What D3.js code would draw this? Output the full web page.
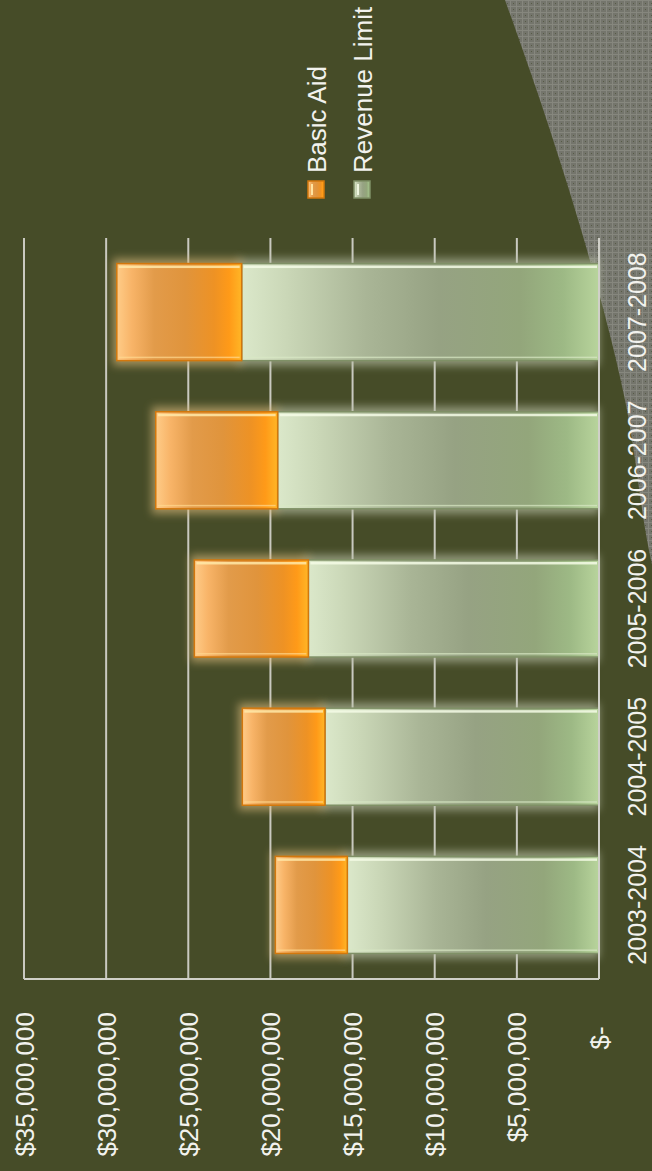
<!DOCTYPE html>
<html>
<head>
<meta charset="utf-8">
<script src="https://cdn.jsdelivr.net/npm/d3@7"></script>
<style>
  html, body { margin: 0; padding: 0; background: #464c28; }
  svg { display: block; }
  text { font-family: "Liberation Sans", Arial, sans-serif; fill: #f2f2ee; }
</style>
</head>
<body>
<div id="chart"></div>
<script>
// data (dollars)
var categories = ["2003-2004", "2004-2005", "2005-2006", "2006-2007", "2007-2008"];
var revenueLimit = [15320000, 16680000, 17690000, 19560000, 21750000];
var basicAid = [4380000, 5030000, 6940000, 7420000, 7600000];
var seriesNames = ["Basic Aid", "Revenue Limit"];
var valueTicks = [0, 5000000, 10000000, 15000000, 20000000, 25000000, 30000000, 35000000];

var W = 652, H = 1171;
var svg = d3.select("#chart").append("svg")
    .attr("width", W)
    .attr("height", H);

var defs = svg.append("defs");

// grey dotted pattern for the corner shape
var pat = defs.append("pattern")
    .attr("id", "dots")
    .attr("width", 6).attr("height", 6)
    .attr("patternUnits", "userSpaceOnUse");
pat.append("rect").attr("width", 6).attr("height", 6).attr("fill", "#74756c");
pat.append("rect").attr("width", 6).attr("height", 1).attr("fill", "#86877e");
pat.append("rect").attr("width", 1).attr("height", 6).attr("fill", "#86877e");
pat.append("rect").attr("x", 3).attr("y", 3).attr("width", 1).attr("height", 1).attr("fill", "#575b46");

function grad(id, stops) {
    var g = defs.append("linearGradient").attr("id", id)
        .attr("x1", "0").attr("y1", "0").attr("x2", "1").attr("y2", "0");
    stops.forEach(function (s) {
        g.append("stop").attr("offset", s[0]).attr("stop-color", s[1]);
    });
}
grad("gOrange", [[0, "#ffcc88"], [0.12, "#f8b468"], [0.3, "#e29b4a"], [0.55, "#e0943c"], [0.78, "#ee9224"], [0.9, "#ff9a18"], [1, "#ffb626"]]);
grad("gGreen", [[0, "#dbe8ca"], [0.12, "#cbd8b8"], [0.35, "#a9b596"], [0.55, "#96a283"], [0.78, "#93a67b"], [0.9, "#9db985"], [1, "#b8d49c"]]);

var blur = defs.append("filter").attr("id", "glow")
    .attr("x", "-20%").attr("y", "-30%").attr("width", "140%").attr("height", "160%");
blur.append("feGaussianBlur").attr("stdDeviation", 4);

// background corner shape
var cornerPts = [[505, 0], [540, 100], [587, 250], [625, 400], [647, 540], [660, 600]];
var cornerPath = d3.line().curve(d3.curveCatmullRom)(cornerPts) + "L660,0Z";
svg.append("path").attr("d", cornerPath).attr("fill", "url(#dots)");

// scales
var x = d3.scaleLinear().domain([0, 35000000]).range([599, 24]);
var y = d3.scaleBand().domain(categories).range([979, 238])
    .paddingInner(0.345).paddingOuter(0.1725);

// gridlines
var grid = svg.append("g");
grid.selectAll("line").data(valueTicks.slice(1)).enter().append("line")
    .attr("x1", function (d) { return x(d); })
    .attr("x2", function (d) { return x(d); })
    .attr("y1", 238).attr("y2", 979)
    .attr("stroke", "#c9c9c0").attr("stroke-width", 2);

// stacked data
var rows = categories.map(function (c, i) {
    return { cat: c, rl: revenueLimit[i], ba: basicAid[i] };
});
var segs = [];
rows.forEach(function (r) {
    segs.push({ cat: r.cat, v0: 0, v1: r.rl, s: "rl" });
    segs.push({ cat: r.cat, v0: r.rl, v1: r.rl + r.ba, s: "ba" });
});

// glow behind bars
svg.append("g").selectAll("rect").data(segs).enter().append("rect")
    .attr("x", function (d) { return x(d.v1) - 4; })
    .attr("y", function (d) { return y(d.cat) - 5; })
    .attr("width", function (d) { return x(d.v0) - x(d.v1) + 4; })
    .attr("height", y.bandwidth() + 10)
    .attr("fill", function (d) { return d.s == "ba" ? "#d8b87a" : "#b9c0a6"; })
    .attr("opacity", 0.65)
    .attr("filter", "url(#glow)");

// bars
var bars = svg.append("g").selectAll("g").data(segs).enter().append("g");
bars.append("rect")
    .attr("x", function (d) { return x(d.v1); })
    .attr("y", function (d) { return y(d.cat); })
    .attr("width", function (d) { return x(d.v0) - x(d.v1); })
    .attr("height", y.bandwidth())
    .attr("fill", function (d) { return d.s == "ba" ? "url(#gOrange)" : "url(#gGreen)"; })
    .attr("stroke", function (d) { return d.s == "ba" ? "#d2770c" : "#7f9066"; })
    .attr("stroke-width", 1.5);
// top highlight
bars.append("rect")
    .attr("x", function (d) { return x(d.v1) + 2; })
    .attr("y", function (d) { return y(d.cat) + 2; })
    .attr("width", function (d) { return x(d.v0) - x(d.v1) - 4; })
    .attr("height", 2.5)
    .attr("fill", function (d) { return d.s == "ba" ? "#ffe9a8" : "#f4fbe6"; })
    .attr("opacity", 0.85);
// bottom highlight
bars.append("rect")
    .attr("x", function (d) { return x(d.v1) + 2; })
    .attr("y", function (d) { return y(d.cat) + y.bandwidth() - 4; })
    .attr("width", function (d) { return x(d.v0) - x(d.v1) - 4; })
    .attr("height", 1.5)
    .attr("fill", function (d) { return d.s == "ba" ? "#ffd890" : "#d8e8c4"; })
    .attr("opacity", 0.7);

// axis lines
svg.append("line").attr("x1", x(0)).attr("x2", x(0)).attr("y1", 238).attr("y2", 979)
    .attr("stroke", "#d0d0c8").attr("stroke-width", 2);
svg.append("line").attr("x1", x(35000000)).attr("x2", x(0)).attr("y1", 979).attr("y2", 979)
    .attr("stroke", "#d0d0c8").attr("stroke-width", 2);

// value axis labels
var money = d3.format(",");
var xAxis = d3.axisBottom(x).tickValues(valueTicks).tickSize(0)
    .tickFormat(function (d) { return d == 0 ? "$-\u00a0\u00a0" : "$" + money(d); });
var xg = svg.append("g").attr("transform", "translate(0,1012)").call(xAxis);
xg.select(".domain").remove();
xg.selectAll("text")
    .attr("x", null).attr("y", null).attr("dy", null)
    .attr("transform", "translate(9,0) rotate(-90)")
    .attr("text-anchor", "end")
    .attr("fill", "#f2f2ee")
    .style("font-size", "26px")
    .style("font-family", "'Liberation Sans', Arial, sans-serif");

// category labels
var yAxis = d3.axisRight(y).tickSize(0);
var yg = svg.append("g").attr("transform", "translate(646,0)").call(yAxis);
yg.select(".domain").remove();
yg.selectAll("text")
    .attr("x", null).attr("dy", null)
    .attr("transform", "rotate(-90)")
    .attr("text-anchor", "middle")
    .attr("fill", "#f2f2ee")
    .style("font-size", "25px")
    .style("font-family", "'Liberation Sans', Arial, sans-serif");

// legend
var legend = svg.append("g").selectAll("g").data(seriesNames).enter().append("g")
    .attr("transform", function (d, i) { return "translate(" + (326 + i * 46) + ",0)"; });
legend.append("rect")
    .attr("x", -18).attr("y", 181).attr("width", 16).attr("height", 17)
    .attr("fill", function (d, i) { return i == 0 ? "url(#gOrange)" : "url(#gGreen)"; })
    .attr("stroke", function (d, i) { return i == 0 ? "#d2770c" : "#7f9066"; })
    .attr("stroke-width", 1.5);
legend.append("rect")
    .attr("x", -15).attr("y", 184).attr("width", 2).attr("height", 11)
    .attr("fill", function (d, i) { return i == 0 ? "#ffe3a0" : "#eef6e0"; });
legend.append("text")
    .attr("transform", "translate(0,173) rotate(-90)")
    .attr("text-anchor", "start")
    .style("font-size", "26px")
    .text(function (d) { return d; });
</script>
</body>
</html>
